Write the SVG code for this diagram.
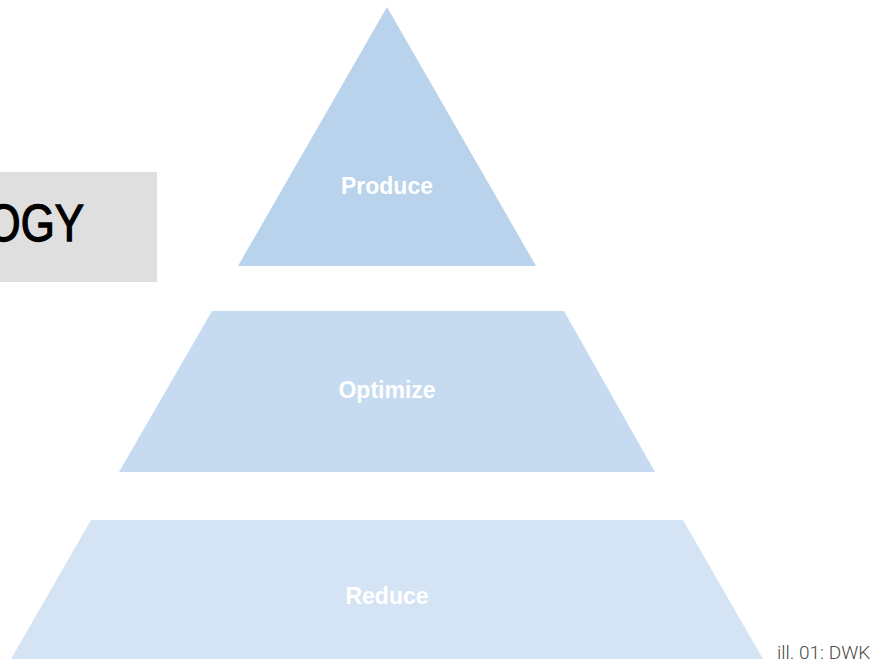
<svg xmlns="http://www.w3.org/2000/svg" width="884" height="664" viewBox="0 0 884 664">
  <style>
    .tier-label { font-family: "Liberation Sans", Arial, sans-serif; font-weight: bold; font-size: 23px; fill: #ffffff; text-anchor: middle; }
    .title { font-family: "Liberation Sans", Arial, sans-serif; font-size: 51px; fill: #000000; stroke: #000000; stroke-width: 1.3px; text-anchor: end; }
    .credit { font-family: Roboto, "Liberation Sans", Arial, sans-serif; font-weight: 300; font-size: 19px; fill: #4a4a4a; }
  </style>

  <!-- background -->
  <rect x="0" y="0" width="884" height="664" fill="#ffffff"/>

  <!-- title panel, running off the left edge -->
  <g id="title-panel">
    <rect x="-20" y="172" width="177" height="110" fill="#dfdfdf"/>
    <text class="title" transform="translate(84 241) scale(0.86 1)" x="0" y="0">OGY</text>
  </g>

  <!-- pyramid tiers, top to bottom -->
  <g id="tier-produce">
    <polygon points="387,7 536,266 238,266" fill="#b9d3ec"/>
    <text class="tier-label" x="387" y="194">Produce</text>
  </g>

  <g id="tier-optimize">
    <polygon points="212,311 564,311 655,472 119,472" fill="#c6dbf0"/>
    <text class="tier-label" x="387" y="398">Optimize</text>
  </g>

  <g id="tier-reduce">
    <polygon points="91,520 683,520 763,659 11,659" fill="#d4e4f4"/>
    <text class="tier-label" x="387" y="604">Reduce</text>
  </g>

  <!-- credit line -->
  <g id="credit">
    <text class="credit" x="777" y="659">ill. 01: DWK</text>
  </g>
</svg>
